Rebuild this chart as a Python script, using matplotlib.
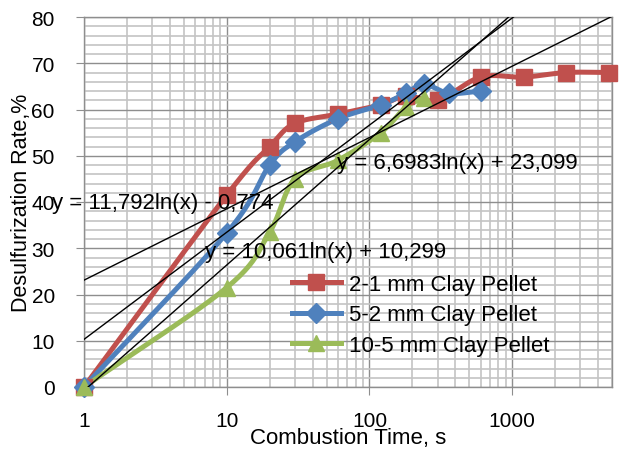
import numpy as np
import matplotlib
matplotlib.use("Agg")
import matplotlib.pyplot as plt
from matplotlib.ticker import LogLocator, MultipleLocator, FixedLocator, NullFormatter

# data
t_red = [1, 10, 20, 30, 60, 120, 180, 300, 600, 1200, 2400, 4800]
y_red = [0, 41.5, 52, 57, 59, 61, 63, 62, 67, 67, 68, 68]

t_blue = [1, 10, 20, 30, 60, 120, 180, 240, 360, 600]
y_blue = [0, 33.3, 48, 53, 58, 61, 63.5, 65.5, 63.5, 64]

t_green = [1, 10, 20, 30, 60, 120, 180, 240]
y_green = [0, 21.5, 33.5, 45, 49, 55, 60.5, 62.5]

labels = ["2-1 mm Clay Pellet", "5-2 mm Clay Pellet", "10-5 mm Clay Pellet"]
colors = ["#C0504D", "#4F81BD", "#9BBB59"]
markers = ["s", "D", "^"]

# log trendlines: (slope, intercept, label)
trends = [(11.792, -0.774, "y = 11,792ln(x) - 0,774"),
          (10.061, 10.299, "y = 10,061ln(x) + 10,299"),
          (6.6983, 23.099, "y = 6,6983ln(x) + 23,099")]

plt.rcParams['font.family'] = ['Liberation Sans', 'DejaVu Sans']
FS = 16


def smooth(t, y, n=24):
    # catmull-rom through the points in (log t, y) space, like excel's smoothed line
    u = np.log10(np.asarray(t, float))
    v = np.asarray(y, float)
    pu = np.concatenate([[2 * u[0] - u[1]], u, [2 * u[-1] - u[-2]]])
    pv = np.concatenate([[2 * v[0] - v[1]], v, [2 * v[-1] - v[-2]]])
    su, sv = [], []
    s = np.linspace(0, 1, n, endpoint=False)
    for i in range(1, len(pu) - 2):
        for P, out in ((pu, su), (pv, sv)):
            p0, p1, p2, p3 = P[i - 1], P[i], P[i + 1], P[i + 2]
            out.extend(0.5 * (2 * p1 + (-p0 + p2) * s + (2 * p0 - 5 * p1 + 4 * p2 - p3) * s ** 2
                              + (-p0 + 3 * p1 - 3 * p2 + p3) * s ** 3))
    su.append(u[-1])
    sv.append(v[-1])
    return 10 ** np.array(su), np.array(sv)


fig = plt.figure(figsize=(6.2, 4.56), dpi=100)
ax = fig.add_axes([84 / 620, 1 - 388 / 456, (612 - 84) / 620, (388 - 18) / 456])

ax.set_xscale("log")
ax.set_xlim(1, 5000)
ax.set_ylim(0, 80)

ax.yaxis.set_major_locator(MultipleLocator(10))
ax.yaxis.set_minor_locator(MultipleLocator(2))
ax.xaxis.set_major_locator(FixedLocator([1, 10, 100, 1000]))
ax.xaxis.set_minor_locator(LogLocator(base=10, subs=np.arange(2, 10)))
ax.xaxis.set_minor_formatter(NullFormatter())
ax.set_xticklabels(["1", "10", "100", "1000"])

ax.grid(True, which="minor", color="#c4c4c4", linewidth=1.2)
ax.grid(True, which="major", color="#8e8e8e", linewidth=1.0)
ax.set_axisbelow(True)
for sp in ax.spines.values():
    sp.set_color("#8e8e8e")
    sp.set_linewidth(1.0)

ax.tick_params(which="major", direction="out", length=6, color="#8e8e8e",
               labelsize=15)
ax.tick_params(which="minor", length=0)
ax.tick_params(axis="y", pad=15)
ax.tick_params(axis="x", pad=11)

series = [(t_red, y_red), (t_blue, y_blue), (t_green, y_green)]
msizes = [12, 10, 12]
for (t, y), c, m, ms, lab in zip(series, colors, markers, msizes, labels):
    xs, ys = smooth(t, y)
    ax.plot(xs, ys, color=c, linewidth=3.6, clip_on=False, zorder=3)
    ax.plot(t, y, linestyle="none", marker=m, markersize=ms, color=c,
            clip_on=False, zorder=4)
    ax.plot([], [], color=c, linewidth=3.6, marker=m, markersize=ms, label=lab)

tx = np.logspace(0, np.log10(5000), 200)
for a, b, _ in trends:
    ax.plot(tx, a * np.log(tx) + b, color="black", linewidth=1.0, zorder=5)

# equation labels (positions in axes fraction)
eq_pos = [(-0.060, 0.498), (0.229, 0.365), (0.479, 0.606)]
for (a, b, s), (px, py) in zip(trends, eq_pos):
    ax.text(px, py, s, transform=ax.transAxes, fontsize=FS,
            ha="left", va="center", zorder=6)

leg = ax.legend(loc="upper left", bbox_to_anchor=(0.394, 0.305),
                frameon=False, fontsize=FS, handlelength=2.2, handletextpad=0.35,
                labelspacing=0.42, borderpad=0, borderaxespad=0)
leg.set_zorder(7)

ax.set_xlabel("Combustion Time, s", fontsize=FS, labelpad=-2)
ax.set_ylabel("Desulfurization Rate,%", fontsize=15.5)
ax.yaxis.set_label_coords(-0.098, 0.5)

fig.savefig("out.png", dpi=100)
